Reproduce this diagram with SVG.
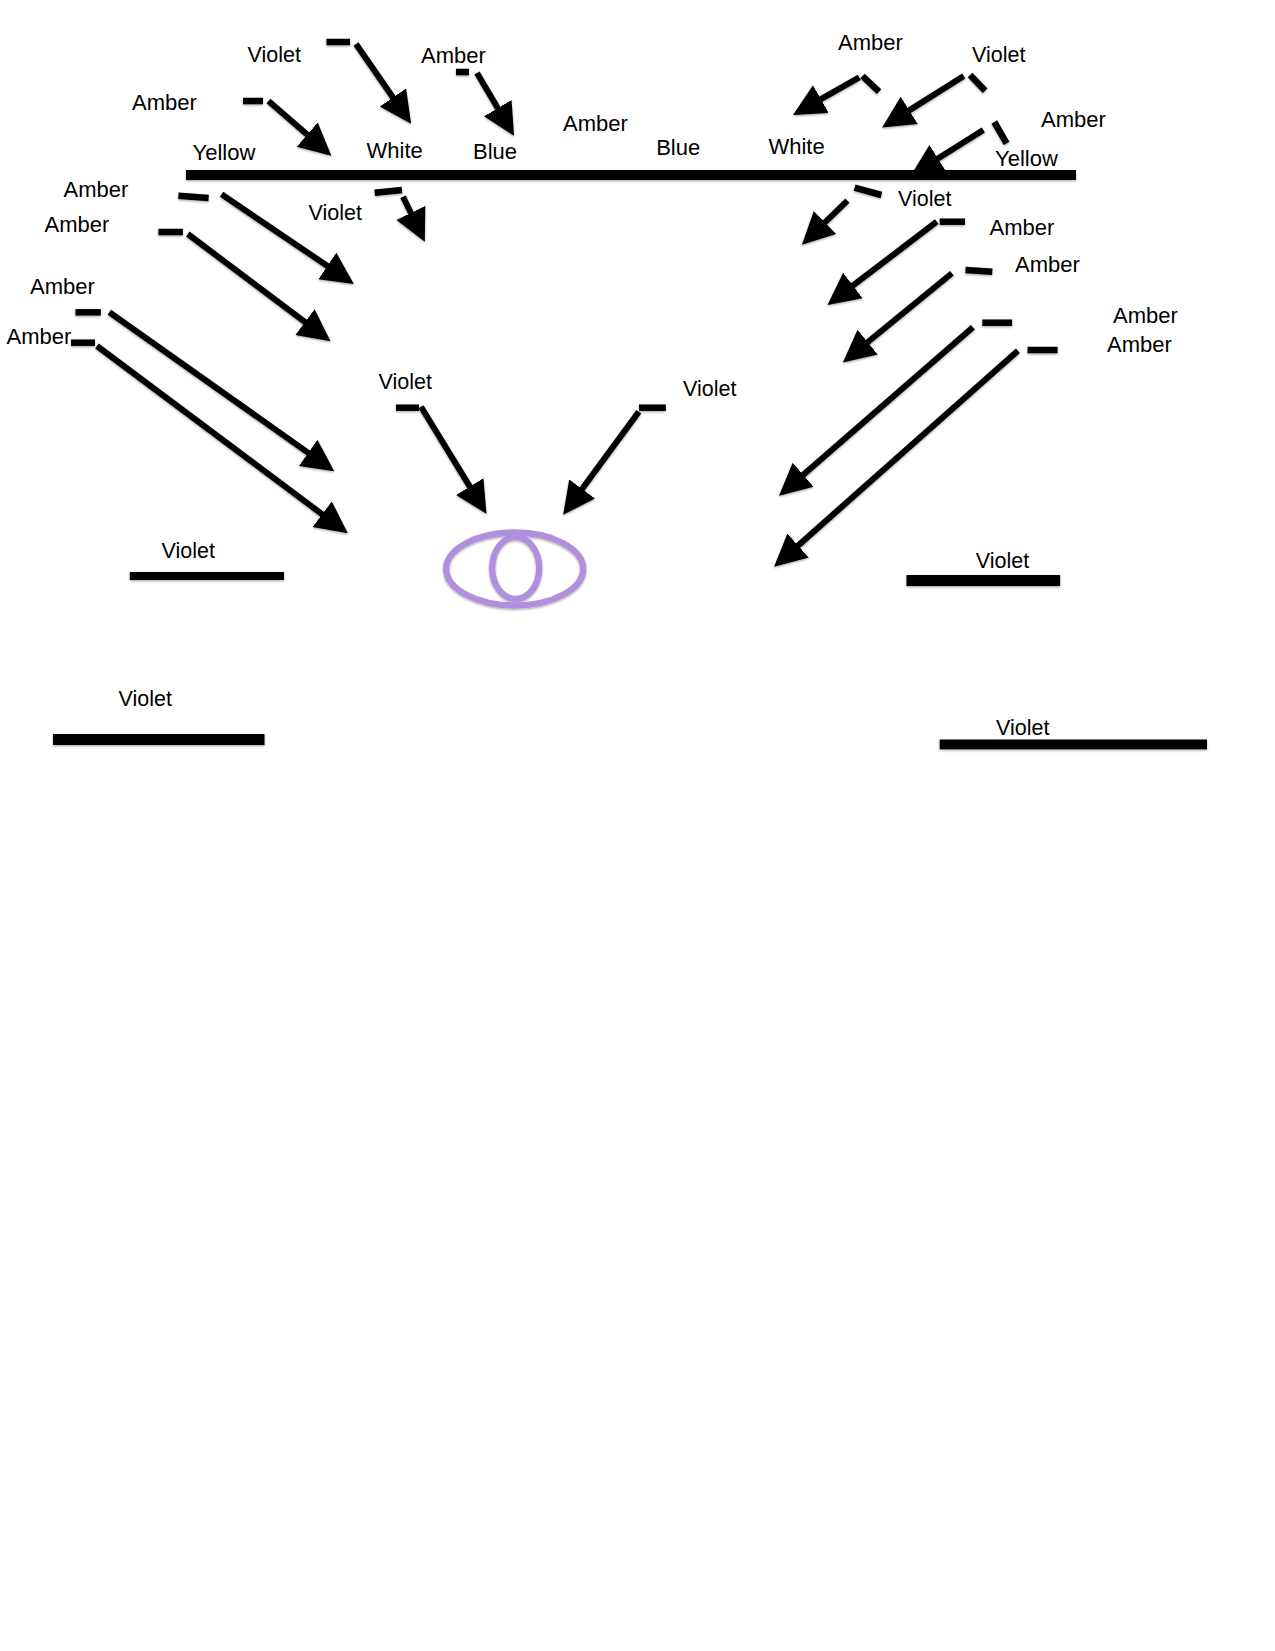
<svg xmlns="http://www.w3.org/2000/svg" width="1275" height="1651" viewBox="0 0 1275 1651">
<style>
text{font-family:"Liberation Sans",Arial,Helvetica,sans-serif;font-size:22px;fill:#000}
text.v{font-size:21.5px}
.c line{stroke:#000;stroke-width:6;fill:none;marker-end:url(#head)}
.dash{stroke:#000;stroke-width:6.5;fill:none}
.bar{fill:#000}
.s{filter:url(#sh)}
.eye{fill:none;stroke:#b08fdc;stroke-width:6.3}
</style>
<defs>
<marker id="head" markerUnits="userSpaceOnUse" markerWidth="34" markerHeight="34" refX="1" refY="17" orient="auto" viewBox="0 0 34 34"><path d="M0,1 L32,17 L0,33 Z" fill="#000"/></marker>
<filter id="sh" filterUnits="userSpaceOnUse" x="0" y="0" width="1275" height="800"><feDropShadow dx="0" dy="1.2" stdDeviation="0.9" flood-color="#000" flood-opacity="0.35"/></filter>
</defs>
<rect width="1275" height="1651" fill="#fff"/>
<g id="connectors" class="c s">
<line x1="268.5" y1="101" x2="308" y2="135.3"/>
<line x1="356" y1="44" x2="393.5" y2="98.3"/>
<line x1="477" y1="73" x2="498.3" y2="109.1"/>
<line x1="221.6" y1="194.3" x2="328.2" y2="266.5"/>
<line x1="187.8" y1="234" x2="305.8" y2="322.7"/>
<line x1="109.4" y1="312.3" x2="309" y2="453.4"/>
<line x1="97" y1="346" x2="323" y2="514.8"/>
<line x1="403" y1="196.7" x2="411.3" y2="213.8"/>
<line x1="421" y1="406.7" x2="470.3" y2="487.4"/>
<line x1="638.8" y1="411.7" x2="581.5" y2="489.8"/>
<line x1="859.3" y1="77.3" x2="820" y2="99.6"/>
<line x1="963.7" y1="76" x2="908.4" y2="110.9"/>
<line x1="983.3" y1="130" x2="937.1" y2="159"/>
<line x1="847.4" y1="200.7" x2="824.2" y2="223.2"/>
<line x1="936.7" y1="221.7" x2="852.1" y2="286.2"/>
<line x1="951.9" y1="273.3" x2="866.9" y2="342.8"/>
<line x1="972.9" y1="327.3" x2="802.4" y2="475.4"/>
<line x1="1017.9" y1="350.7" x2="797.3" y2="546.2"/>
</g>
<g id="main-bar"><rect class="bar s" x="186" y="170" width="890" height="10"/></g>
<g id="spectrum-labels">
<text x="192.6" y="160">Yellow</text>
<text x="366.5" y="157.7">White</text>
<text x="473" y="159.3">Blue</text>
<text x="563" y="130.7">Amber</text>
<text x="656.2" y="155">Blue</text>
<text x="768.4" y="154">White</text>
<text x="995" y="165.7">Yellow</text>
</g>
<g id="n-amber-top1"><text x="132" y="110">Amber</text><line class="dash s" x1="243" y1="101" x2="263" y2="101"/></g>
<g id="n-violet-top"><text class="v" x="247.5" y="62">Violet</text><line class="dash s" x1="326.5" y1="42" x2="350" y2="42"/></g>
<g id="n-amber-top2"><text x="421" y="62.7">Amber</text><line class="dash s" x1="456" y1="72" x2="469" y2="72"/></g>
<g id="n-amber-l1"><text x="63.5" y="196.7">Amber</text><line class="dash s" x1="178.4" y1="195.7" x2="208.6" y2="198"/></g>
<g id="n-amber-l2"><text x="44.5" y="231.7">Amber</text><line class="dash s" x1="158.4" y1="232" x2="182.9" y2="232"/></g>
<g id="n-violet-l"><text class="v" x="308.5" y="220">Violet</text><line class="dash s" x1="374.7" y1="192.7" x2="402" y2="190"/></g>
<g id="n-amber-l3"><text x="30" y="294">Amber</text><line class="dash s" x1="75.5" y1="312.3" x2="100.8" y2="312.3"/></g>
<g id="n-amber-l4"><text x="6.5" y="344">Amber</text><line class="dash s" x1="71" y1="342.7" x2="95" y2="342.7"/></g>
<g id="n-violet-c1"><text class="v" x="378.5" y="389">Violet</text><line class="dash s" x1="396" y1="407.7" x2="419" y2="407.7"/></g>
<g id="n-violet-c2"><text class="v" x="683" y="395.7">Violet</text><line class="dash s" x1="639" y1="407.7" x2="665.8" y2="407.7"/></g>
<g id="n-amber-r1"><text x="838" y="50">Amber</text><line class="dash s" x1="862.5" y1="76" x2="879" y2="91.7"/></g>
<g id="n-violet-r1"><text class="v" x="972" y="61.7">Violet</text><line class="dash s" x1="970.1" y1="75" x2="985.1" y2="90.7"/></g>
<g id="n-amber-r2"><text x="1041" y="126.7">Amber</text><line class="dash s" x1="994.3" y1="122" x2="1006.6" y2="143.3"/></g>
<g id="n-violet-r2"><text class="v" x="898" y="205.7">Violet</text><line class="dash s" x1="854.6" y1="187.7" x2="881.4" y2="195"/></g>
<g id="n-amber-r3"><text x="989.5" y="235">Amber</text><line class="dash s" x1="939.7" y1="221.7" x2="965" y2="221.7"/></g>
<g id="n-amber-r4"><text x="1015" y="271.7">Amber</text><line class="dash s" x1="965.5" y1="270" x2="992.3" y2="271.7"/></g>
<g id="n-amber-r5"><text x="1113" y="322.7">Amber</text><line class="dash s" x1="982.3" y1="322.7" x2="1012.1" y2="322.7"/></g>
<g id="n-amber-r6"><text x="1107" y="351.7">Amber</text><line class="dash s" x1="1027.6" y1="350" x2="1057.6" y2="350"/></g>
<g id="n-eye" class="s"><ellipse class="eye" cx="514.7" cy="569" rx="68.5" ry="36.5"/><ellipse class="eye" cx="515.7" cy="568" rx="23.5" ry="31"/></g>
<g id="n-violet-b1"><text class="v" x="161.5" y="557.7">Violet</text><rect class="bar s" x="129.8" y="572" width="154.2" height="8"/></g>
<g id="n-violet-b2"><text class="v" x="975.8" y="567.7">Violet</text><rect class="bar s" x="906.5" y="575" width="153.6" height="11"/></g>
<g id="n-violet-b3"><text class="v" x="118.5" y="706">Violet</text><rect class="bar s" x="53" y="734" width="211.5" height="11"/></g>
<g id="n-violet-b4"><text class="v" x="996" y="735">Violet</text><rect class="bar s" x="939.7" y="739.5" width="267.3" height="9.8"/></g>
</svg>
